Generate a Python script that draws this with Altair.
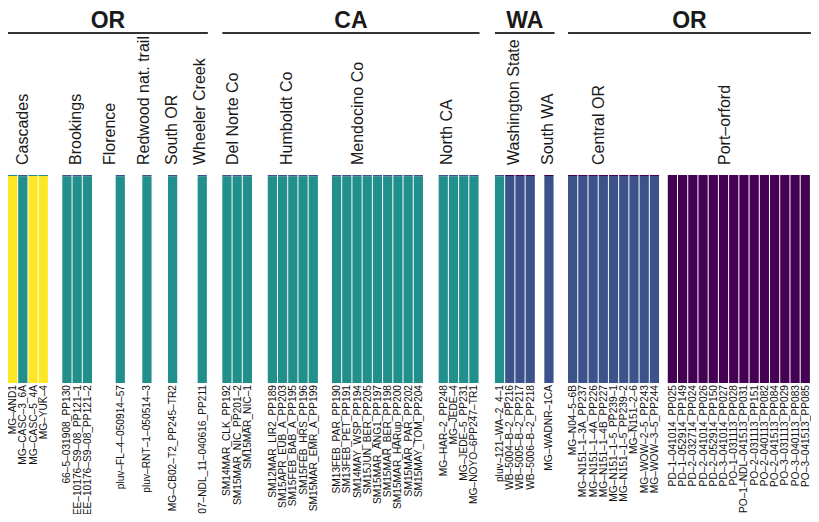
import altair as alt
import pandas as pd

# ---------------- data ----------------
regions = ["OR", "CA", "WA", "OR"]
region_sizes = [6, 4, 2, 2]  # number of populations in each region

populations = ["Cascades", "Brookings", "Florence", "Redwood nat. trail", "South OR",
               "Wheeler Creek", "Del Norte Co", "Humboldt Co", "Mendocino Co", "North CA",
               "Washington State", "South WA", "Central OR", "Port-orford"]

individuals = [
    ["MG-AND1", "MG-CASC-3_6A", "MG-CASC-5_4A", "MG-YUK-4"],
    ["66-5-031908_PP130", "EE-10176-S9-08_PP121-1", "EE-10176-S9-08_PP121-2"],
    ["pluv-FL-4-050914-57"],
    ["pluv-RNT-1-050514-3"],
    ["MG-CB02-T2_PP245-TR2"],
    ["07-NDL_11-040616_PP211"],
    ["SM14MAR_CLK_PP192", "SM15MAR_NIC_PP201-2", "SM15MAR_NIC-1"],
    ["SM12MAR_LIR2_PP189", "SM15APR_EUB_A_PP203", "SM15FEB_BAB_A_PP195",
     "SM15FEB_HRS_PP196", "SM15MAR_EMR_A_PP199"],
    ["SM13FEB_PAR_PP190", "SM13FEB_PET_PP191", "SM14MAY_WSP_PP194", "SM15JUN_BER_PP205",
     "SM15MAR_ANG1_PP197", "SM15MAR_BER_PP198", "SM15MAR_HARup_PP200",
     "SM15MAR_PAR_PP202", "SM15MAY_TOM_PP204"],
    ["MG-HAR-2_PP248", "MG-JEDE-4", "MG-JEDE-5_PP231", "MG-NOYO-6PP247-TR1"],
    ["pluv-121-WA-2_4-1", "WB-5004-B-2_PP216", "WB-5005-B-2_PP217", "WB-5006-B-2_PP218"],
    ["MG-WADNR-1CA"],
    ["MG-N04-5-6B", "MG-N151-1-3A_PP237", "MG-N151-1-4A_PP226", "MG-N151-1-4B_PP227",
     "MG-N151-1-5_PP239-1", "MG-N151-1-5_PP239-2", "MG-N151-2-6",
     "MG-WOW-2-5_PP243", "MG-WOW-3-5_PP244"],
    ["PD-1-041014_PP025", "PD-1-052914_PP149", "PD-2-032714_PP024", "PD-2-041014_PP026",
     "PD-2-052914_PP150", "PD-3-041014_PP027", "PO-1-031113_PP028", "PO-1-NDL-041513_PP031",
     "PO-2-031113_PP151", "PO-2-040113_PP082", "PO-2-041513_PP084", "PO-3-031113_PP029",
     "PO-3-040113_PP083", "PO-3-041513_PP085"],
]

clusters = ["K1", "K2", "K3", "K4"]
cluster_colors = ["#FDE725", "#21908C", "#3B528B", "#440154"]

# ancestry proportions (K1, K2, K3, K4)
Y = (0.995, 0.005, 0.0, 0.0)
T = (0.0, 0.994, 0.006, 0.0)
B = (0.0, 0.0, 0.995, 0.005)
P = (0.0, 0.0, 0.0, 1.0)

membership = [
    [Y, T, Y, Y],
    [T, T, T],
    [T],
    [T],
    [T],
    [T],
    [T, T, T],
    [T] * 5,
    [T] * 9,
    [T] * 4,
    [T, B, B, B],
    [B],
    [B] * 9,
    [P] * 14,
]

# ---------------- layout ----------------
W, H = 803, 506
BW = 10.35          # bar slot width
SEP = 1.0           # white separator
pop_gaps = [5, 13.6, 22.95, 16.65, 15.65, 19.65, 14.65, 14.95, 13.25, 14.85, 15.6, 8.6, 13.65, 7.85]
pop_label_offset = [1.45, 1.35, -0.53, 0.14, 0.39, 0.24, 1.01, 1.84, 2.51, 0.77, 1.84, 0.39, 3.0, 5.6]
FONT = "Liberation Sans"

bars, ind_labels, pop_labels, pop_extent = [], [], [], []
pos = 0.0
for p, (pop, names, mem) in enumerate(zip(populations, individuals, membership)):
    pos += pop_gaps[p]
    start = pos
    for name, q in zip(names, mem):
        cum = 0.0
        for k, v in enumerate(q):
            if v > 0:
                bars.append({"x0": pos, "x1": pos + BW - SEP, "y0": cum, "y1": cum + v,
                             "cluster": clusters[k], "ind": name})
                cum += v
        ind_labels.append({"x": pos + BW / 2, "label": name.replace("-", "\u2013")})
        pos += BW
    pop_extent.append((start, pos))
    pop_labels.append({"x": start + pop_label_offset[p] * BW,
                       "label": pop.replace("-", "\u2013")})

reg_rows = []
i = 0
for r, n in zip(regions, region_sizes):
    s = pop_extent[i][0]
    e = pop_extent[i + n - 1][1]
    reg_rows.append({"x0": s, "x1": e, "xm": (s + e) / 2, "label": r})
    i += n

bars_df = pd.DataFrame(bars)
ind_df = pd.DataFrame(ind_labels)
pop_df = pd.DataFrame(pop_labels)
reg_df = pd.DataFrame(reg_rows)

xscale = alt.Scale(domain=[5, 818], range=[0, W], nice=False, zero=False)
yscale = alt.Scale(domain=[0, 1], range=[375, 167], nice=False, zero=False)

bar_layer = alt.Chart(bars_df).mark_rect().encode(
    x=alt.X("x0:Q", scale=xscale, axis=None),
    x2="x1:Q",
    y=alt.Y("y0:Q", scale=yscale, axis=None),
    y2="y1:Q",
    color=alt.Color("cluster:N", scale=alt.Scale(domain=clusters, range=cluster_colors),
                    legend=None),
)

ind_layer = alt.Chart(ind_df).mark_text(
    angle=270, align="right", baseline="middle", fontSize=10.2, font=FONT, color="#111111"
).encode(
    x=alt.X("x:Q", scale=xscale, axis=None),
    y=alt.value(377),
    text="label:N",
)

pop_layer = alt.Chart(pop_df).mark_text(
    angle=270, align="left", baseline="middle", fontSize=16, font=FONT, color="#1a1a1a"
).encode(
    x=alt.X("x:Q", scale=xscale, axis=None),
    y=alt.value(157),
    text="label:N",
)

reg_line = alt.Chart(reg_df).mark_rule(strokeWidth=2.2, color="#333333").encode(
    x=alt.X("x0:Q", scale=xscale, axis=None),
    x2="x1:Q",
    y=alt.value(25),
)

reg_text = alt.Chart(reg_df).mark_text(
    fontSize=23, fontWeight="bold", font=FONT, color="#1a1a1a", baseline="alphabetic"
).encode(
    x=alt.X("xm:Q", scale=xscale, axis=None),
    y=alt.value(20),
    text="label:N",
)

chart = alt.layer(bar_layer, ind_layer, pop_layer, reg_line, reg_text).properties(
    width=W, height=H, autosize=alt.AutoSizeParams(type="none"), padding=0,
    background="white",
).configure_view(stroke=None)

chart.save("out.html", embed_options={"renderer": "svg", "actions": False})
